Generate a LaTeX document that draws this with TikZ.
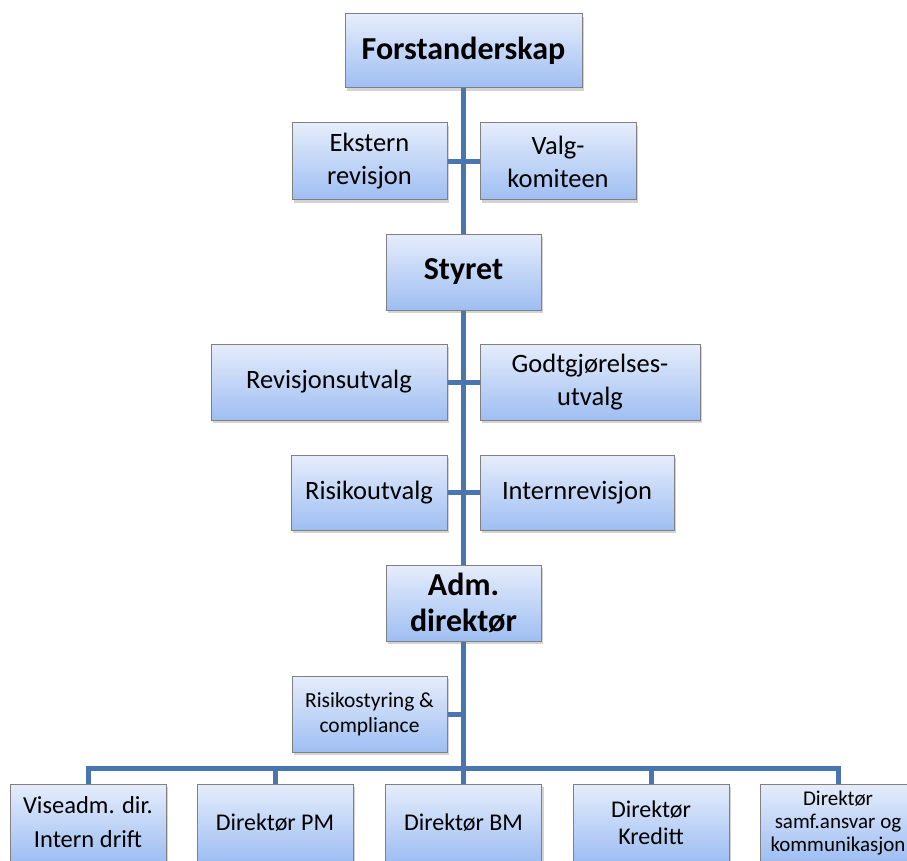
\documentclass[tikz,border=0pt]{standalone}
\usepackage{fontspec}
\setmainfont{Carlito}
\usetikzlibrary{shadows}
\definecolor{linkblue}{RGB}{74,118,176}
\definecolor{boxtop}{RGB}{230,237,251}
\definecolor{boxbot}{RGB}{158,190,242}
\definecolor{boxline}{RGB}{128,128,128}
\tikzset{
  orgbox/.style={draw=boxline, line width=1pt, top color=boxtop, bottom color=boxbot,
    drop shadow={shadow xshift=2pt, shadow yshift=-3pt, opacity=0.35},
    align=center, inner sep=2pt, font=\fontsize{26.5}{33}\selectfont},
  headbox/.style={orgbox, font=\bfseries\fontsize{32}{36}\selectfont},
  smallbox/.style={orgbox, font=\fontsize{21.5}{25}\selectfont},
  unitbox/.style={orgbox, minimum width=156pt, minimum height=77pt,
    font=\fontsize{24}{27}\selectfont},
  link/.style={draw=linkblue, line width=5pt}
}
\begin{document}
\begin{tikzpicture}[x=1pt,y=-1pt]
\useasboundingbox (0,0) rectangle (907,861);
% top levels
\node[headbox, minimum width=237pt, minimum height=74pt] (forst) at (463.5,51) {Forstanderskap};
\node[orgbox, minimum width=155pt, minimum height=77pt] (ekst) at (369.5,161.5) {Ekstern\\revisjon};
\node[orgbox, minimum width=156pt, minimum height=77pt] (valg) at (558,161.5) {Valg-\\komiteen};
\node[headbox, minimum width=155pt, minimum height=76pt] (styret) at (463.5,272) {Styret};
\node[orgbox, minimum width=236pt, minimum height=76pt] (revu) at (329,382) {Revisjonsutvalg};
\node[orgbox, minimum width=220pt, minimum height=76pt] (godt) at (590,382) {Godtgjørelses-\\utvalg};
\node[orgbox, minimum width=156pt, minimum height=75pt] (risu) at (369,492.5) {Risikoutvalg};
\node[orgbox, minimum width=194pt, minimum height=75pt] (intern) at (577,492.5) {Internrevisjon};
\node[headbox, minimum width=155pt, minimum height=76pt] (adm) at (463.5,603) {Adm.\\direktør};
\node[smallbox, minimum width=155pt, minimum height=76pt] (rstyr) at (369.5,714) {Risikostyring \&\\compliance};
% directors
\node[unitbox, font=\fontsize{24.5}{34}\selectfont] (d1) at (88,822.5) {Viseadm. dir.\\Intern drift};
\node[unitbox] (d2) at (275,822.5) {Direktør PM};
\node[unitbox] (d3) at (463.5,822.5) {Direktør BM};
\node[unitbox] (d4) at (651,822.5) {Direktør\\Kreditt};
\node[unitbox, font=\fontsize{21}{23}\selectfont] (d5) at (838,822.5) {Direktør\\samf.ansvar og\\kommunikasjon};
\coordinate (rjoin) at (463.5,714);
\coordinate (bus) at (463.5,768);
% connectors
\draw[link] (forst) -- (styret);
\draw[link] (styret) -- (adm);
\draw[link] (adm) -- (bus);
\draw[link] (ekst) -- (valg);
\draw[link] (revu) -- (godt);
\draw[link] (risu) -- (intern);
\draw[link] (rstyr) -- (rjoin);
\foreach \i in {1,...,5}
  \draw[link] (bus) -| (d\i.north);
\end{tikzpicture}
\end{document}
